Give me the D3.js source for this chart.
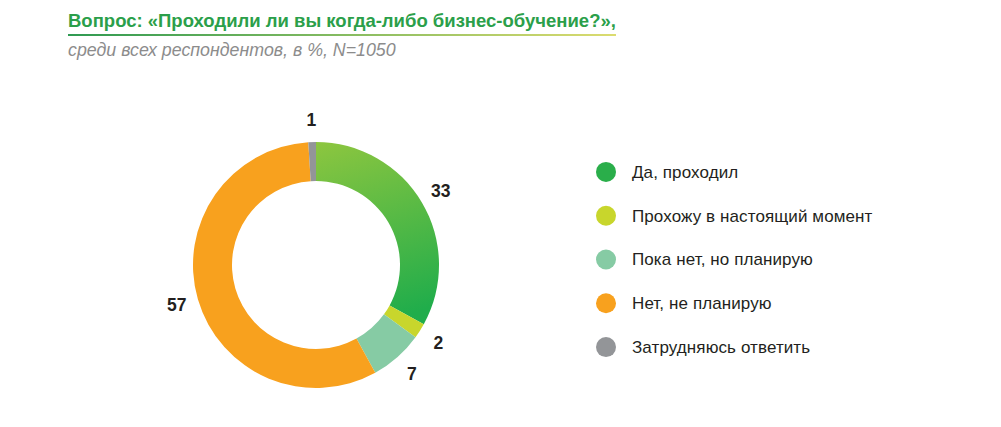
<!DOCTYPE html>
<html>
<head>
<meta charset="utf-8">
<script src="https://cdn.jsdelivr.net/npm/d3@7"></script>
<style>
  html, body { margin: 0; padding: 0; background: #fff; }
  svg { display: block; }
  text { font-family: "Liberation Sans", Arial, sans-serif; }
</style>
</head>
<body>
<svg id="chart" width="1001" height="427"></svg>
<script>
const categories = ["Да, проходил", "Прохожу в настоящий момент", "Пока нет, но планирую", "Нет, не планирую", "Затрудняюсь ответить"];
const values = [33, 2, 7, 57, 1];
const colors = ["#2aae4a", "#c8d62c", "#86cba4", "#f8a11e", "#939598"];
const titleText = "Вопрос: «Проходили ли вы когда-либо бизнес-обучение?»,";
const subtitleText = "среди всех респондентов, в %, N=1050";

const svg = d3.select("#chart");
const defs = svg.append("defs");

// title underline gradient
const ug = defs.append("linearGradient").attr("id", "ul").attr("x1", "0%").attr("x2", "100%");
ug.append("stop").attr("offset", "0%").attr("stop-color", "#2f9a52");
ug.append("stop").attr("offset", "100%").attr("stop-color", "#dcdc70");

svg.append("text").attr("x", 68).attr("y", 27)
  .attr("font-size", 18.5).attr("font-weight", "bold").attr("fill", "#2b9f4a")
  .text(titleText);
svg.append("rect").attr("x", 68).attr("y", 34).attr("width", 548).attr("height", 2).attr("fill", "url(#ul)");
svg.append("text").attr("x", 68).attr("y", 56)
  .attr("font-size", 17.8).attr("font-style", "italic").attr("fill", "#8c8c8c")
  .text(subtitleText);

// donut
const cx = 316, cy = 265, rOut = 123, rIn = 84;
const g = svg.append("g").attr("transform", `translate(${cx},${cy})`);

const gg = defs.append("linearGradient").attr("id", "greenGrad")
  .attr("gradientUnits", "userSpaceOnUse")
  .attr("x1", 0).attr("y1", -rOut).attr("x2", 60).attr("y2", 60);
gg.append("stop").attr("offset", "0%").attr("stop-color", "#8dc63f");
gg.append("stop").attr("offset", "100%").attr("stop-color", "#20ad4b");

const pie = d3.pie().value(d => d).sort(null);
const arcs = pie(values);
const arc = d3.arc().innerRadius(rIn).outerRadius(rOut);
const labelArc = d3.arc().innerRadius(145).outerRadius(145);

g.selectAll("path").data(arcs).join("path")
  .attr("d", arc)
  .attr("fill", (d, i) => i === 0 ? "url(#greenGrad)" : colors[i]);

g.selectAll("text.lbl").data(arcs).join("text")
  .attr("class", "lbl")
  .attr("transform", d => `translate(${labelArc.centroid(d)})`)
  .attr("text-anchor", "middle").attr("dominant-baseline", "central")
  .attr("font-size", 17.5).attr("font-weight", "bold").attr("fill", "#231f20")
  .text(d => d.data);

// legend
const y = d3.scaleBand().domain(categories).range([150, 369]);
const leg = svg.append("g");
const items = leg.selectAll("g").data(categories).join("g")
  .attr("transform", d => `translate(606,${y(d) + y.bandwidth() / 2})`);
items.append("circle").attr("r", 10).attr("fill", (d, i) => colors[i]);
items.append("text").attr("x", 26).attr("dy", "0.35em")
  .attr("font-size", 17).attr("fill", "#231f20").attr("letter-spacing", "0.1")
  .text(d => d);
</script>
</body>
</html>
